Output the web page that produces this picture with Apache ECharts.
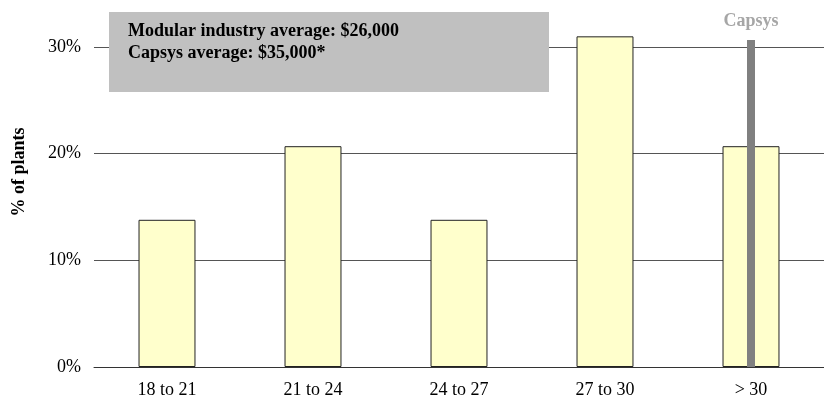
<!DOCTYPE html>
<html>
<head>
<meta charset="utf-8">
<script src="https://cdn.jsdelivr.net/npm/echarts@6/dist/echarts.min.js"></script>
<style>
  html, body { margin: 0; padding: 0; background: #fff; }
  #chart { width: 824px; height: 402px; }
</style>
</head>
<body>
<div id="chart"></div>
<script>
// salary bands and share of plants
var categories = ['18 to 21', '21 to 24', '24 to 27', '27 to 30', '> 30']
var plantShare = [13.8, 20.7, 13.8, 31.0, 20.7]
// Capsys marker sits in the last band
var capsysMarker = [null, null, null, null, 30.65]
var yTicks = [0, 10, 20, 30]
var boxLines = ['Modular industry average: $26,000', 'Capsys average: $35,000*']

var serif = '"Liberation Serif", "Times New Roman", serif'
var chart = echarts.init(document.getElementById('chart'))

var option = {
  animation: false,
  grid: {
    left: 94,
    top: 47,
    width: 738,
    height: 320
  },
  xAxis: [
    {
      type: 'category',
      data: categories,
      axisLine: { lineStyle: { color: '#333', width: 1 } },
      axisTick: { length: 5, lineStyle: { color: '#333' } },
      axisLabel: { color: '#000', fontFamily: serif, fontSize: 18, margin: 14 }
    },
    {
      // hidden twin axis so the marker is centred in its band
      type: 'category',
      data: categories,
      show: false
    }
  ],
  yAxis: {
    type: 'value',
    min: yTicks[0],
    max: yTicks[yTicks.length - 1],
    interval: 10,
    name: '% of plants',
    nameLocation: 'middle',
    nameGap: 66,
    nameRotate: 90,
    nameTextStyle: {
      fontFamily: serif,
      fontSize: 18,
      fontWeight: 'bold',
      color: '#000',
      padding: [0, 0, 0, 70]
    },
    axisLine: { show: false },
    axisTick: { show: false },
    axisLabel: {
      color: '#000',
      fontFamily: serif,
      fontSize: 18,
      margin: 13,
      formatter: function (v) { return v + '%' }
    },
    splitLine: { lineStyle: { color: '#555', width: 1 } }
  },
  series: [
    {
      name: 'plants',
      type: 'bar',
      data: plantShare,
      barWidth: '39%',
      clip: false,
      itemStyle: { color: '#ffffcc', borderColor: '#222', borderWidth: 1 }
    },
    {
      name: 'Capsys',
      type: 'bar',
      xAxisIndex: 1,
      data: capsysMarker,
      barWidth: 8,
      clip: false,
      z: 3,
      itemStyle: { color: '#808080' },
      label: {
        show: true,
        position: 'top',
        distance: 10,
        formatter: 'Capsys',
        fontFamily: serif,
        fontSize: 18,
        fontWeight: 'bold',
        color: '#a6a6a6'
      }
    }
  ],
  graphic: [
    {
      type: 'rect',
      left: 109,
      top: 12,
      shape: { width: 440, height: 80 },
      style: { fill: '#c0c0c0' },
      z: 10
    },
    {
      type: 'text',
      left: 128,
      top: 20,
      z: 11,
      style: {
        text: boxLines.join('\n'),
        fontFamily: serif,
        fontSize: 18,
        fontWeight: 'bold',
        lineHeight: 22,
        fill: '#000'
      }
    }
  ]
}

chart.setOption(option)
</script>
</body>
</html>
